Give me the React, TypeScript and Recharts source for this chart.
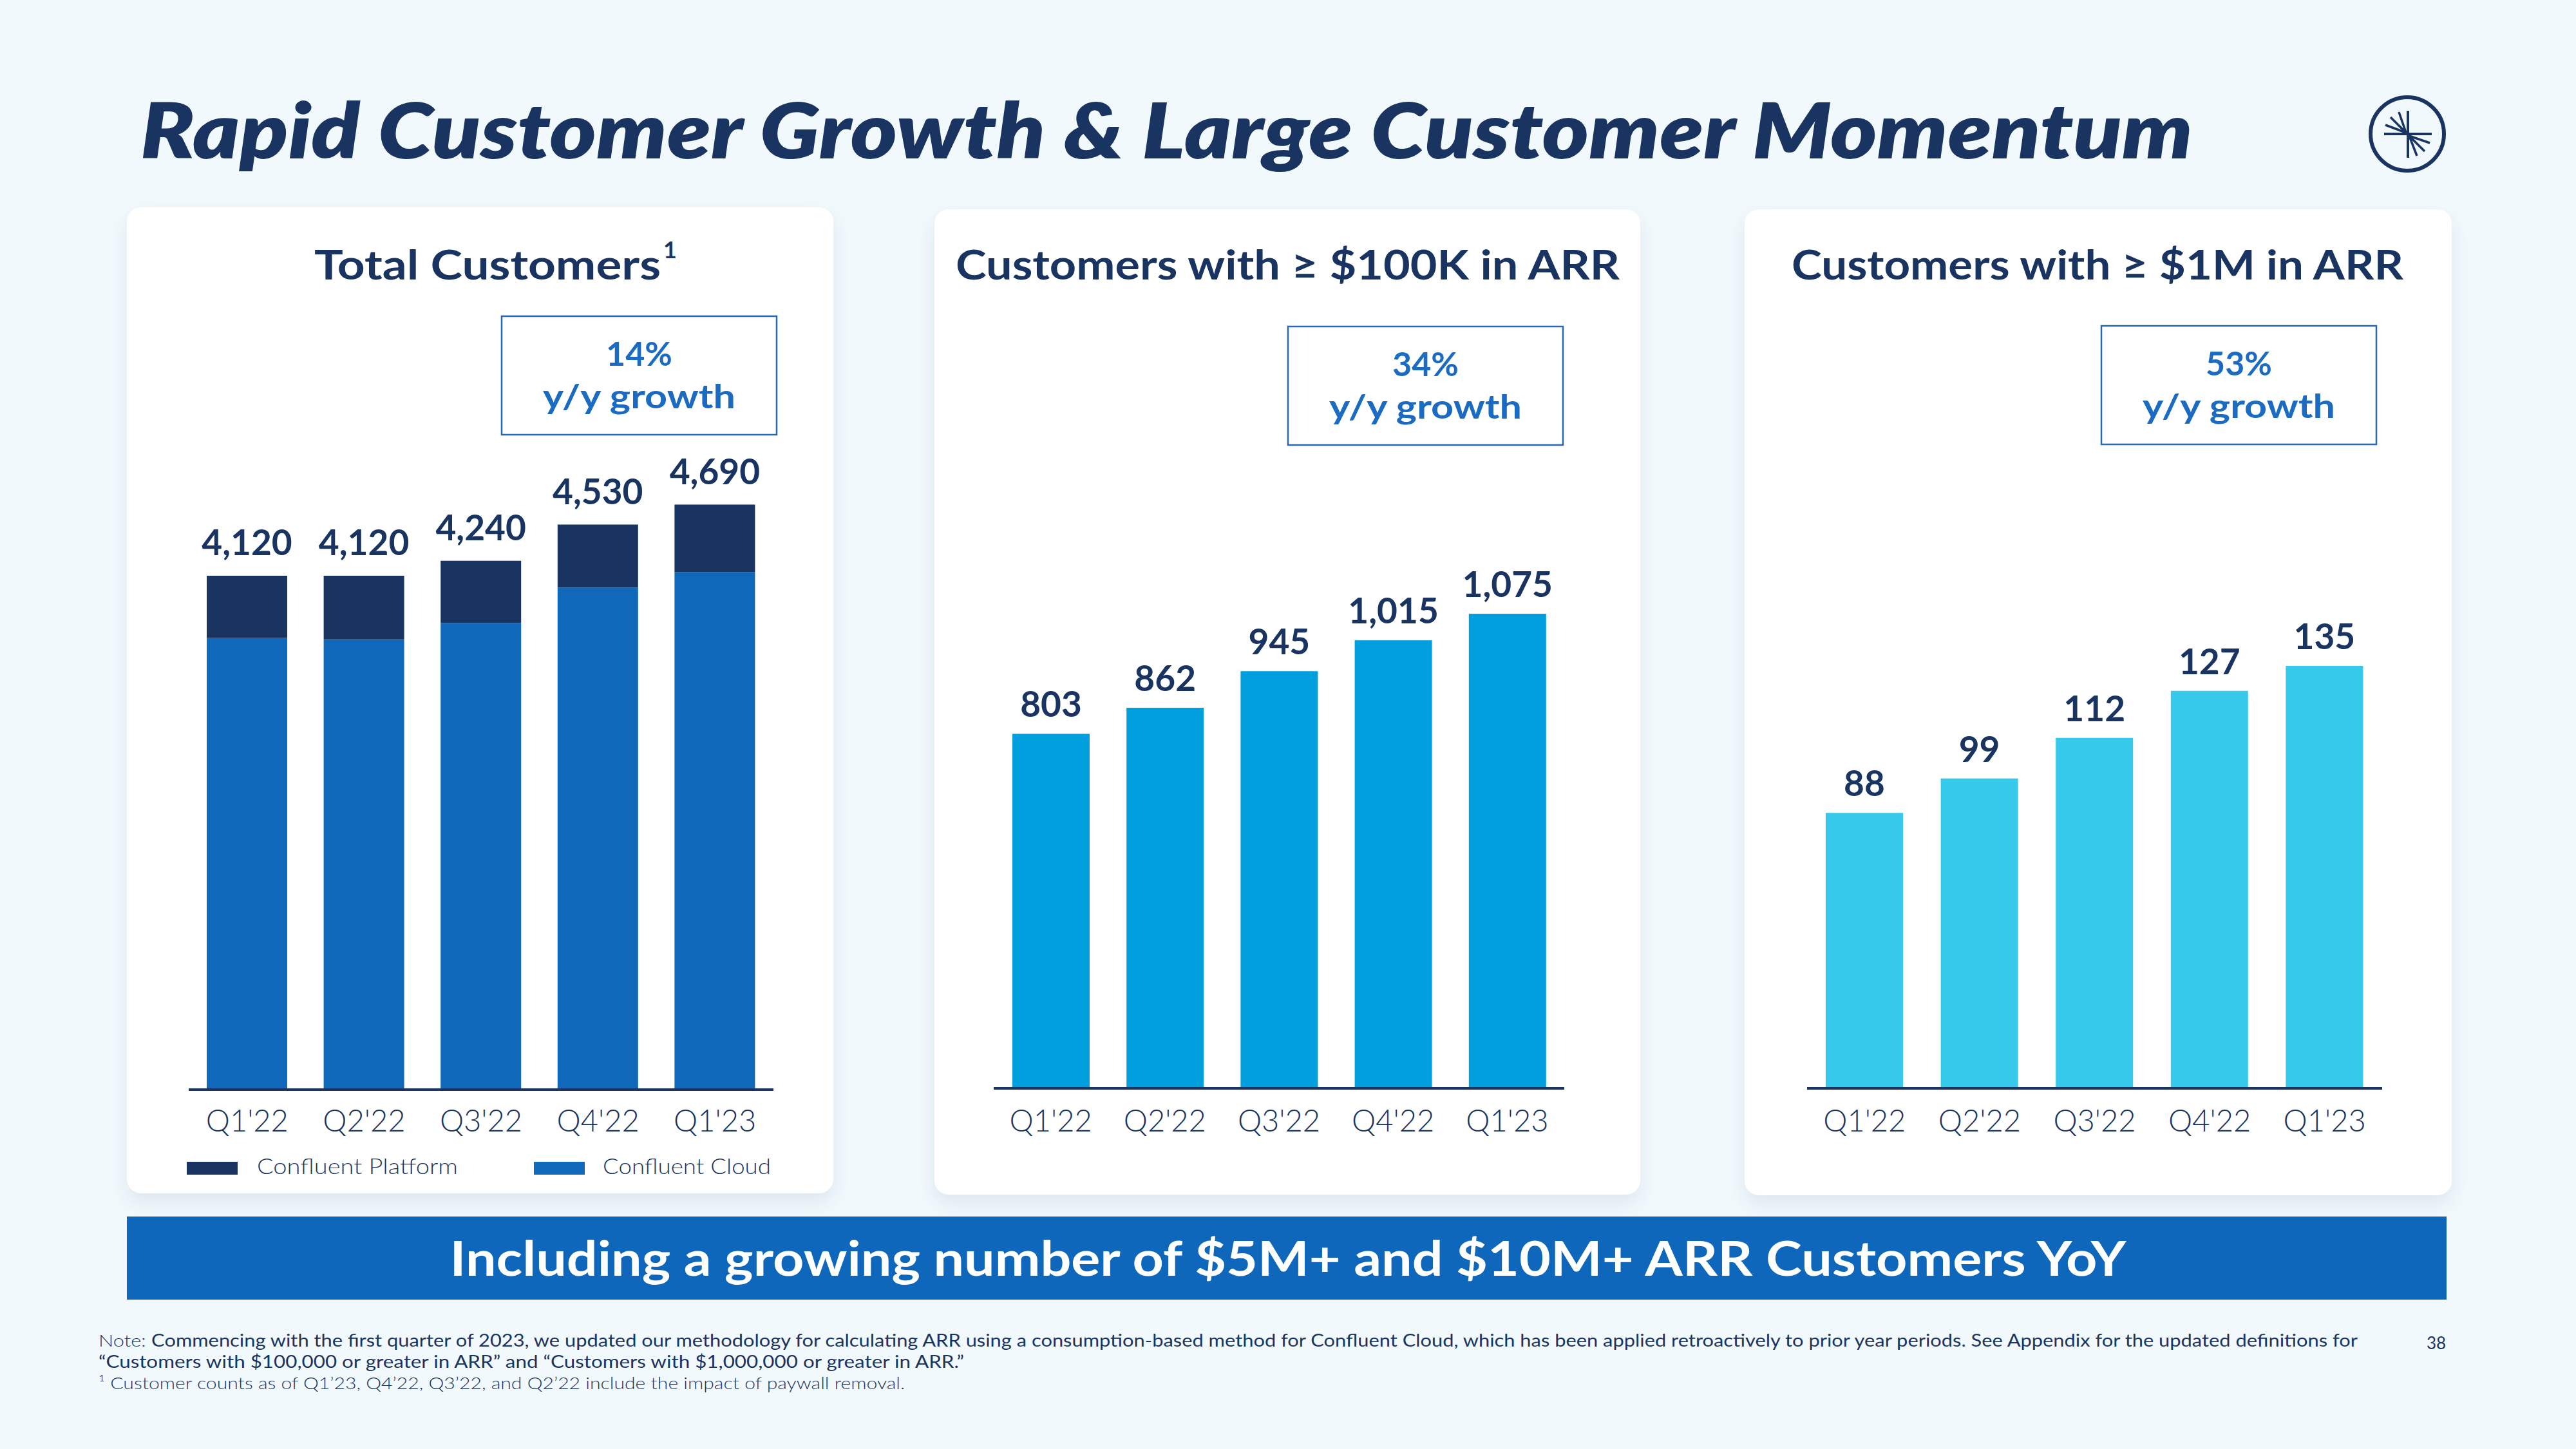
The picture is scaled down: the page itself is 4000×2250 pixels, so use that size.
import React from 'react';
import { BarChart, Bar, XAxis, YAxis, LabelList } from 'recharts';

const quarters = ["Q1'22", "Q2'22", "Q3'22", "Q4'22", "Q1'23"];
const totalCustomers = [4120, 4120, 4240, 4530, 4690];
const platformCustomers = [500, 510, 500, 505, 540];
const cloudCustomers = [3620, 3610, 3740, 4025, 4150];
const arr100kCustomers = [803, 862, 945, 1015, 1075];
const arr1mCustomers = [88, 99, 112, 127, 135];
const growthRates = ['14%', '34%', '53%'];
const panelTitles = ['Total Customers', 'Customers with ≥ $100K in ARR', 'Customers with ≥ $1M in ARR'];
const seriesNames = ['Confluent Platform', 'Confluent Cloud'];
const pageTitle = 'Rapid Customer Growth & Large Customer Momentum';
const bannerText = 'Including a growing number of $5M+ and $10M+ ARR Customers YoY';
const footnotes = [
  'Commencing with the first quarter of 2023, we updated our methodology for calculating ARR using a consumption-based method for Confluent Cloud, which has been applied retroactively to prior year periods. See Appendix for the updated definitions for',
  '“Customers with $100,000 or greater in ARR” and “Customers with $1,000,000 or greater in ARR.”',
  '¹ Customer counts as of Q1’23, Q4’22, Q3’22, and Q2’22 include the impact of paywall removal.',
];
const pageNumber = '38';

const NAVY = '#1A3461';
const CLOUD = '#0F68BA';
const CYAN = '#029FDF';
const LIGHT_CYAN = '#36C9EC';
const GROWTH = '#1A6BC1';
const FONT = 'Lato, "Open Sans", sans-serif';

const totalData = quarters.map((q, i) => ({ q, cloud: cloudCustomers[i], platform: platformCustomers[i], total: totalCustomers[i] }));
const data100k = quarters.map((q, i) => ({ q, v: arr100kCustomers[i] }));
const data1m = quarters.map((q, i) => ({ q, v: arr1mCustomers[i] }));

const makeTick = (dy: number) => (props: any) => (
  <text x={props.x} y={Number(props.y) + dy} textAnchor="middle" fontFamily={FONT} fontWeight={300} fontSize={47} fill={NAVY}>
    {props.payload.value}
  </text>
);

const makeLabel = (off: number) => (props: any) => {
  const x = Number(props.x), y = Number(props.y), w = Number(props.width);
  return (
    <text x={x + w / 2} y={y - off} textAnchor="middle" fontFamily={FONT} fontWeight={700} fontSize={55} fill={NAVY}>
      {Number(props.value).toLocaleString('en-US')}
    </text>
  );
};

const abs = (left: number, top: number, width: number, height: number): React.CSSProperties => ({
  position: 'absolute', left, top, width, height,
});

const cardStyle = (left: number, top: number, width: number, height: number): React.CSSProperties => ({
  ...abs(left, top, width, height),
  background: '#FFFFFF',
  borderRadius: 22,
  boxShadow: '0 14px 30px rgba(20,60,100,0.09)',
});

const T = (p: any) => (
  <text
    x={p.x}
    y={p.y}
    fontFamily={FONT}
    fontSize={p.size}
    fontWeight={p.weight ?? 400}
    fontStyle={p.italic ? 'italic' : 'normal'}
    fill={p.fill ?? NAVY}
    textAnchor={p.anchor ?? 'start'}
    textLength={p.len}
    lengthAdjust={p.len ? 'spacingAndGlyphs' : undefined}
  >
    {p.children}
  </text>
);

const GrowthBox = ({ x, y, value }: { x: number; y: number; value: string }) => (
  <g>
    <rect x={x} y={y} width={427} height={184} fill="none" stroke="#2A68AE" strokeWidth={2.5} />
    <T x={x + 213.5} y={y + 77} size={52} weight={700} fill={GROWTH} anchor="middle">{value}</T>
    <T x={x + 213.5} y={y + 143} size={52} weight={700} fill={GROWTH} anchor="middle" len={299}>y/y growth</T>
  </g>
);

export default function App() {
  return (
    <div style={{ position: 'absolute', left: 0, top: 0, width: 4000, height: 2250, background: '#F2F9FD', overflow: 'hidden', fontFamily: FONT }}>
      <div style={cardStyle(197, 322, 1097, 1531)} />
      <div style={cardStyle(1451, 325, 1096, 1530)} />
      <div style={cardStyle(2709, 325, 1098, 1531)} />
      <div style={{ ...abs(197, 1889, 3602, 129), background: '#0E67BA' }} />

      {/* Panel 1: Total customers (stacked) */}
      <div style={abs(293, 600, 908, 1192)}>
        <BarChart width={908} height={1192} data={totalData} margin={{ top: 123.5, right: 0, bottom: 0, left: 0 }}>
          <YAxis hide domain={[0, 5000]} />
          <XAxis dataKey="q" height={100} interval={0} tickSize={0} tickMargin={0} tickLine={false}
            axisLine={{ stroke: NAVY, strokeWidth: 4 }} tick={makeTick(65)} />
          <Bar dataKey="cloud" stackId="a" fill={CLOUD} barSize={125} isAnimationActive={false} name={seriesNames[1]} />
          <Bar dataKey="platform" stackId="a" fill={NAVY} barSize={125} isAnimationActive={false} name={seriesNames[0]}>
            <LabelList dataKey="total" content={makeLabel(32)} />
          </Bar>
        </BarChart>
      </div>

      {/* Panel 2: >= $100K */}
      <div style={abs(1543, 600, 886, 1190)}>
        <BarChart width={886} height={1190} data={data100k} margin={{ top: 130.2, right: 0, bottom: 0, left: 0 }}>
          <YAxis hide domain={[0, 1400]} />
          <XAxis dataKey="q" height={100} interval={0} tickSize={0} tickMargin={0} tickLine={false}
            axisLine={{ stroke: NAVY, strokeWidth: 4 }} tick={makeTick(67)} />
          <Bar dataKey="v" fill={CYAN} barSize={120} isAnimationActive={false}>
            <LabelList dataKey="v" content={makeLabel(26)} />
          </Bar>
        </BarChart>
      </div>

      {/* Panel 3: >= $1M */}
      <div style={abs(2806, 600, 893, 1190)}>
        <BarChart width={893} height={1190} data={data1m} margin={{ top: 118, right: 0, bottom: 0, left: 0 }}>
          <YAxis hide domain={[0, 200]} />
          <XAxis dataKey="q" height={100} interval={0} tickSize={0} tickMargin={0} tickLine={false}
            axisLine={{ stroke: NAVY, strokeWidth: 4 }} tick={makeTick(67)} />
          <Bar dataKey="v" fill={LIGHT_CYAN} barSize={120} isAnimationActive={false}>
            <LabelList dataKey="v" content={makeLabel(26)} />
          </Bar>
        </BarChart>
      </div>

      <svg width={4000} height={2250} style={{ position: 'absolute', left: 0, top: 0, pointerEvents: 'none' }}>
        <T x={218} y={246} size={119} weight={800} italic len={3187}>{pageTitle}</T>

        {/* logo */}
        <g stroke={NAVY} strokeLinecap="butt" fill="none">
          <circle cx={3738} cy={208} r={57} strokeWidth={6} />
          <line x1={3739} y1={172} x2={3739} y2={245} strokeWidth={4} />
          <line x1={3702} y1={208} x2={3776} y2={208} strokeWidth={4} />
          <line x1={3736} y1={206} x2={3725} y2={174} strokeWidth={3.5} />
          <line x1={3736} y1={206} x2={3712} y2={182} strokeWidth={3.5} />
          <line x1={3736} y1={206} x2={3704} y2={194} strokeWidth={3.5} />
          <line x1={3741} y1={211} x2={3753} y2={242} strokeWidth={3.5} />
          <line x1={3741} y1={211} x2={3765} y2={235} strokeWidth={3.5} />
          <line x1={3741} y1={211} x2={3773} y2={222} strokeWidth={3.5} />
        </g>

        <T x={488} y={434} size={64} weight={700} len={538}>{panelTitles[0]}</T>
        <T x={1030} y={401} size={36} weight={700}>1</T>
        <T x={1484} y={434} size={64} weight={700} len={1031}>{panelTitles[1]}</T>
        <T x={2782} y={434} size={64} weight={700} len={950}>{panelTitles[2]}</T>

        <GrowthBox x={779} y={491} value={growthRates[0]} />
        <GrowthBox x={2000} y={507} value={growthRates[1]} />
        <GrowthBox x={3263} y={506} value={growthRates[2]} />

        {/* legend */}
        <rect x={290} y={1804} width={79} height={20} fill={NAVY} />
        <T x={399} y={1823} size={33} weight={300} len={312}>{seriesNames[0]}</T>
        <rect x={829} y={1804} width={79} height={20} fill={CLOUD} />
        <T x={936} y={1823} size={33} weight={300} len={261}>{seriesNames[1]}</T>

        <T x={2000} y={1981} size={75} weight={700} fill="#FFFFFF" anchor="middle" len={2603}>{bannerText}</T>

        <text x={153} y={2091} fontFamily={FONT} fontSize={26} fill={NAVY} textLength={3508} lengthAdjust="spacingAndGlyphs">
          <tspan fontWeight={300}>Note: </tspan>
          <tspan fontWeight={400}>{footnotes[0]}</tspan>
        </text>
        <T x={153} y={2124} size={26} weight={400} len={1344}>{footnotes[1]}</T>
        <T x={153} y={2157} size={26} weight={300} len={1252}>{footnotes[2]}</T>
        <T x={3768} y={2095} size={26} weight={400}>{pageNumber}</T>
      </svg>
    </div>
  );
}
